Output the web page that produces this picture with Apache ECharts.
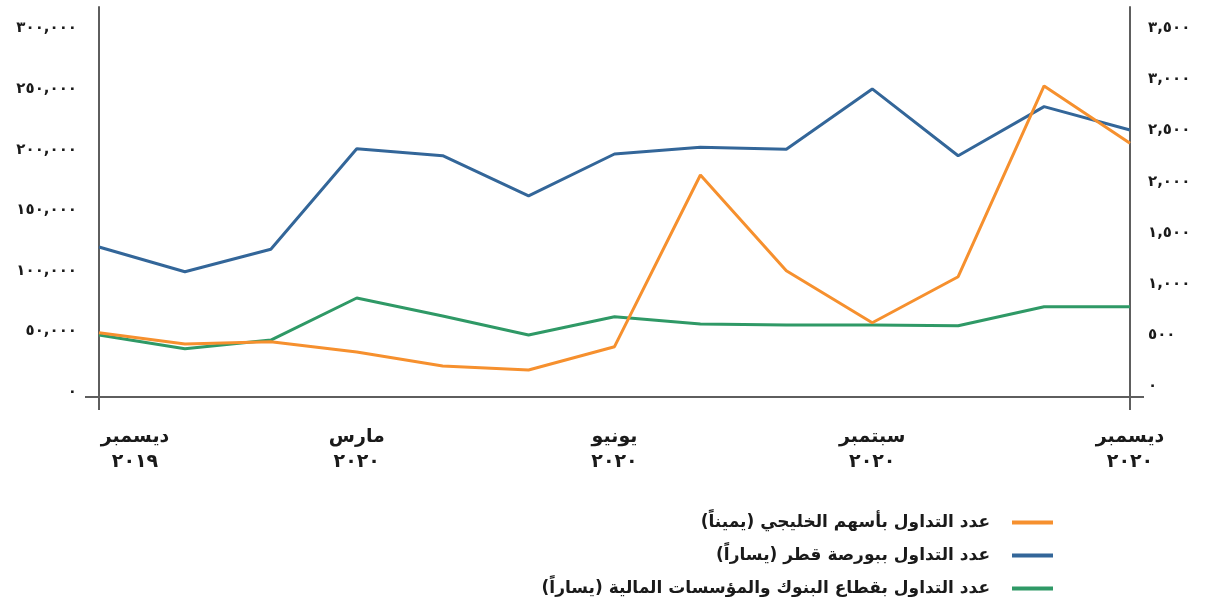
<!DOCTYPE html>
<html><head><meta charset="utf-8">
<script src="https://cdn.jsdelivr.net/npm/echarts@6/dist/echarts.min.js"></script>
<style>html,body{margin:0;padding:0;background:#fff}#c{width:1224px;height:601px}</style>
</head><body><div id="c"></div>
<script>
// Categories: Dec 2019 .. Dec 2020
const months = ['ديسمبر','يناير','فبراير','مارس','أبريل','مايو','يونيو','يوليو','أغسطس','سبتمبر','أكتوبر','نوفمبر','ديسمبر'];
const years  = ['٢٠١٩','٢٠٢٠','٢٠٢٠','٢٠٢٠','٢٠٢٠','٢٠٢٠','٢٠٢٠','٢٠٢٠','٢٠٢٠','٢٠٢٠','٢٠٢٠','٢٠٢٠','٢٠٢٠'];

// Series (left axis)
const qatarExchange = [119700, 99300, 117800, 200800, 195000, 161800, 196400, 202000, 200300, 250100, 195000, 235500, 216200];
const banksSector   = [47000, 35700, 42900, 77600, 62700, 47000, 62100, 56100, 55300, 55300, 54700, 70400, 70400];
// Series (right axis)
const gulfShares    = [525, 415, 437, 337, 200, 161, 389, 2065, 1131, 623, 1072, 2934, 2374];

const seriesNames = [
  'عدد التداول بأسهم الخليجي (يميناً)',
  'عدد التداول ببورصة قطر (يساراً)',
  'عدد التداول بقطاع البنوك والمؤسسات المالية (يساراً)'
];

// Tick labels
const leftTicks  = [0, 50000, 100000, 150000, 200000, 250000, 300000];
const rightTicks = [0, 500, 1000, 1500, 2000, 2500, 3000, 3500];
const leftRange  = [-4100, 317700];
const rightRange = [-102, 3705];

const FONT = 'DejaVu Sans';
const TXT = '#1a1a1a';
const AX = '#5e5e5e';
const COLORS = { orange: '#F6902E', blue: '#336699', green: '#2F9966' };

const toArabicDigits = s => String(s).replace(/[0-9]/g, d => '٠١٢٣٤٥٦٧٨٩'[+d]);
const fmtNum = v => toArabicDigits(Math.round(v).toLocaleString('en-US'));
const RLM = '\u200F';

const categories = months.map((m, i) => m + '\n' + years[i]);

const chart = echarts.init(document.getElementById('c'), null, { renderer: 'canvas' });

const yAxisCommon = {
  type: 'value',
  splitLine: { show: false },
  axisLine: { show: true, lineStyle: { color: AX, width: 2 } },
  axisLabel: {
    color: TXT, fontFamily: FONT, fontSize: 15, fontWeight: 'bold',
    formatter: v => fmtNum(v)
  }
};

chart.setOption({
  animation: false,
  backgroundColor: '#ffffff',
  textStyle: { fontFamily: FONT },
  grid: { left: 99, right: 94, top: 7, bottom: 204, containLabel: false },
  legend: {
    orient: 'vertical',
    right: 171,
    top: 514,
    padding: 0,
    align: 'right',
    icon: 'rect',
    itemWidth: 41,
    itemHeight: 4,
    itemGap: 16,
    data: [seriesNames[0], seriesNames[1], seriesNames[2]],
    formatter: n => n + RLM,
    textStyle: { color: TXT, fontFamily: FONT, fontSize: 17, fontWeight: 'bold', padding: [0, 17, 0, 0] }
  },
  xAxis: {
    type: 'category',
    boundaryGap: false,
    data: categories,
    axisLine: { show: true, onZero: false, lineStyle: { color: AX, width: 2 } },
    axisTick: {
      show: true, length: 13, inside: false,
      interval: i => i === 0 || i === categories.length - 1,
      lineStyle: { color: AX, width: 2 }
    },
    axisLabel: {
      interval: 2,
      color: TXT, fontFamily: FONT, fontSize: 19, fontWeight: 'bold', lineHeight: 25, margin: 28,
      formatter: (v, i) => {
        const parts = v.split('\n');
        if (i === 0) return '{f|' + parts[0] + '}\n{f|' + parts[1] + '}';
        return v;
      },
      rich: {
        f: { color: TXT, fontFamily: FONT, fontSize: 19, fontWeight: 'bold', lineHeight: 25, padding: [0, 0, 0, 72] }
      }
    },
    splitLine: { show: false }
  },
  yAxis: [
    Object.assign({}, yAxisCommon, {
      position: 'left',
      min: leftRange[0], max: leftRange[1],
      axisTick: { show: true, length: 14, inside: false, customValues: [leftRange[0]], lineStyle: { color: AX, width: 2 } },
      axisLabel: Object.assign({}, yAxisCommon.axisLabel, { customValues: leftTicks, margin: 22 })
    }),
    Object.assign({}, yAxisCommon, {
      position: 'right',
      min: rightRange[0], max: rightRange[1],
      axisTick: { show: true, length: 14, inside: false, customValues: [rightRange[0]], lineStyle: { color: AX, width: 2 } },
      axisLabel: Object.assign({}, yAxisCommon.axisLabel, { customValues: rightTicks, margin: 18 })
    })
  ],
  series: [
    { name: seriesNames[1], type: 'line', yAxisIndex: 0, data: qatarExchange, showSymbol: false,
      lineStyle: { color: COLORS.blue, width: 3 }, itemStyle: { color: COLORS.blue } },
    { name: seriesNames[2], type: 'line', yAxisIndex: 0, data: banksSector, showSymbol: false,
      lineStyle: { color: COLORS.green, width: 3 }, itemStyle: { color: COLORS.green } },
    { name: seriesNames[0], type: 'line', yAxisIndex: 1, data: gulfShares, showSymbol: false,
      lineStyle: { color: COLORS.orange, width: 3 }, itemStyle: { color: COLORS.orange } }
  ]
});
</script>
</body></html>
